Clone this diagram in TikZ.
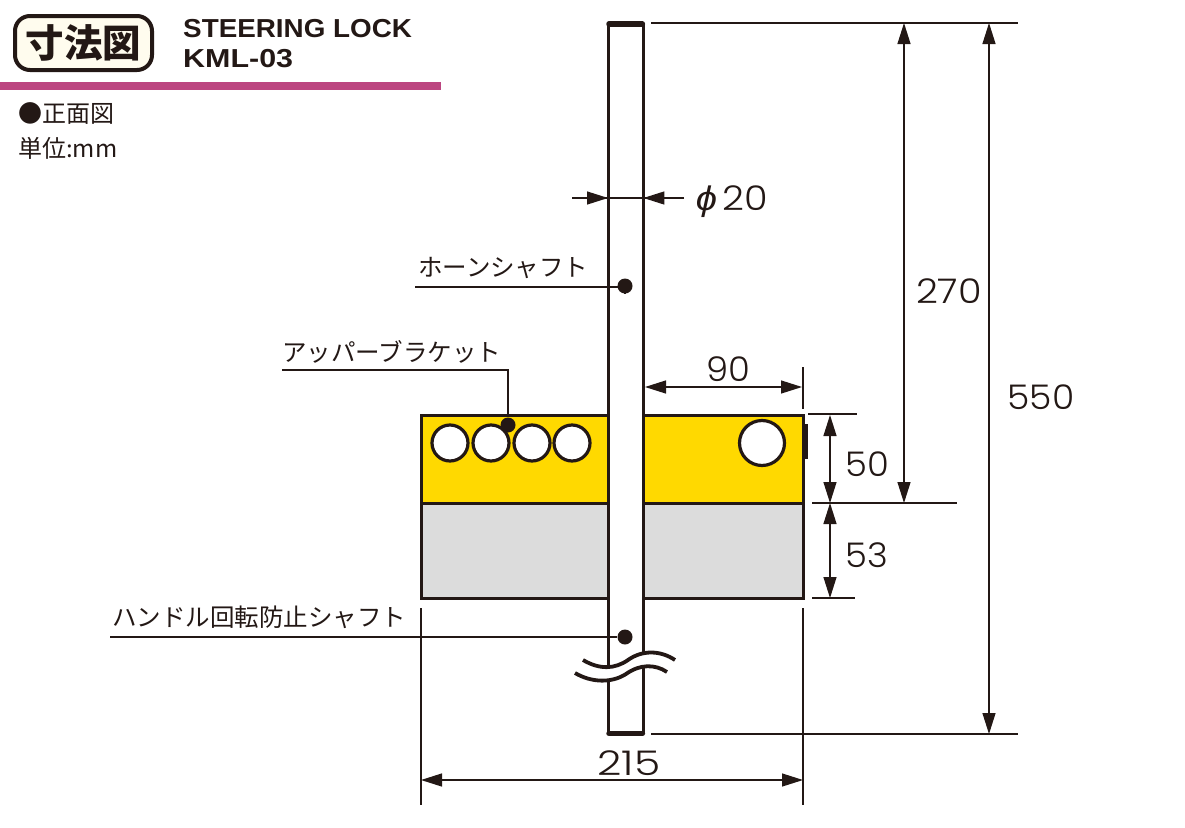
\documentclass[tikz,border=0pt]{standalone}
\usepackage{fontspec}
\setmainfont{Liberation Sans}
\newfontfamily\numfont{Poppins Light}
\newfontfamily\phifont{Liberation Sans}
\newfontfamily\jpfont{Noto Sans CJK JP}
\newfontfamily\jpbold{Noto Sans CJK JP Black}
\usetikzlibrary{positioning,arrows.meta}
\definecolor{inkbrown}{HTML}{231815}
\definecolor{lockyellow}{HTML}{FFD900}
\definecolor{lockgray}{HTML}{DCDCDC}
\definecolor{barpink}{HTML}{BC4580}
\definecolor{badgecream}{HTML}{FFFCEE}

\begin{document}
\begin{tikzpicture}[x=1pt,y=-1pt,
    inkbrown,
    body/.style={rectangle, draw=inkbrown, line width=3pt, inner sep=0pt, outer sep=0pt, anchor=north west},
    upper/.style={body, fill=lockyellow},
    lower/.style={body, fill=lockgray},
    hole/.style={circle, draw=inkbrown, fill=white, line width=3.2pt, inner sep=0pt, minimum size=#1},
    dot/.style={circle, fill=inkbrown, inner sep=0pt, minimum size=15pt},
    thin line/.style={line width=1.3pt},
    dim/.style={thin line, {Triangle[length=21pt,width=13pt]}-{Triangle[length=21pt,width=13pt]}},
    dimright/.style={thin line, -{Triangle[length=21pt,width=13pt]}},
    number/.style={font=\numfont\fontsize{34}{34}\selectfont, text=inkbrown, inner sep=0pt, xscale=1.04},
    label/.style={font=\jpfont\fontsize{24.5}{24.5}\selectfont, text=inkbrown, inner sep=0pt, anchor=west},
    headlabel/.style={label, font=\jpfont\fontsize{24}{24}\selectfont}]

\useasboundingbox (0,0) rectangle (1185,827);

% header
\node [rectangle, rounded corners=15pt, draw=inkbrown, fill=badgecream, line width=4pt,
    minimum width=137pt, minimum height=54pt, inner sep=0pt, anchor=north west,
    font=\jpbold\fontsize{38.5}{38.5}\selectfont, text=inkbrown] (badge) at (13,14) {寸法図};
\node [anchor=west, inner sep=0pt, xscale=1.07, font=\bfseries\fontsize{26}{26}\selectfont, text=inkbrown] (title) at (183,29) {STEERING LOCK};
\node [anchor=west, inner sep=0pt, xscale=1.17, font=\bfseries\fontsize{26}{26}\selectfont, text=inkbrown] (model) at (183,59) {KML-03};
\fill [barpink] (0,82) rectangle (441,90);
\node [headlabel] (view) at (18,113) {●正面図};
\node [headlabel] (unit) at (18,148) {単位:mm};

% blocks
\node [upper, minimum width=187pt, minimum height=88pt] (upperL) at (421,415) {};
\node [lower, minimum width=187pt, minimum height=95pt] (lowerL) at (421,503) {};
\node [upper, minimum width=160pt, minimum height=88pt] (upperR) at (643,415) {};
\node [lower, minimum width=160pt, minimum height=95pt] (lowerR) at (643,503) {};
\fill [inkbrown] (804,424) rectangle (808,459);

\foreach \name/\x in {holeA/450,holeB/491,holeC/532,holeD/572}
    \node [hole=36pt] (\name) at (\x,443) {};
\node [hole=45pt] (holeE) at (762,443) {};

% shaft
\node [rectangle, fill=white, inner sep=0pt, minimum width=35pt, minimum height=709pt, anchor=north west] (shaft) at (608,24) {};
\draw [line width=3pt] (shaft.north west) -- (shaft.south west);
\draw [line width=3pt] (shaft.north east) -- (shaft.south east);
\draw [line width=5.5pt, line cap=round, shorten <=1pt, shorten >=1pt] (shaft.north west) -- (shaft.north east);
\draw [line width=5.5pt, line cap=round, shorten <=1pt, shorten >=1pt] (shaft.south west) -- (shaft.south east);

% break in the shaft
\fill [white] (583,660) .. controls (600,670) and (615,669) .. (628,660) .. controls (642,650) and (660,650) .. (675,660)
    -- (667,672) .. controls (655,664) and (640,664) .. (626,674) .. controls (612,683) and (592,683) .. (575,673) -- cycle;
\draw [line width=3.8pt] (583,660) .. controls (600,670) and (615,669) .. (628,660) .. controls (642,650) and (660,650) .. (675,660);
\draw [line width=3.8pt] (575,673) .. controls (592,683) and (612,683) .. (626,674) .. controls (640,664) and (655,664) .. (667,672);

% leaders
\node [dot] (dotHorn) at (625,286) {};
\node [dot] (dotBracket) at (508,425) {};
\node [dot] (dotBar) at (625,637) {};
\coordinate (hornEnd) at (415,287);
\coordinate (bracketEnd) at (282,370);
\coordinate (barEnd) at (110,637);
\draw [thin line] (hornEnd) -- (dotHorn.center |- hornEnd) -- (dotHorn);
\draw [thin line] (bracketEnd) -| (dotBracket);
\draw [thin line] (barEnd) -- (dotBar);
\node [label] (hornLabel) at (418,268) {ホーンシャフト};
\node [label] (bracketLabel) at (282,352) {アッパーブラケット};
\node [label] (barLabel) at (112,617) {ハンドル回転防止シャフト};

% extension lines
\coordinate (topA) at (651,23);
\coordinate (topB) at (1018,23);
\coordinate (botA) at (651,734);
\coordinate (botB) at (1018,734);
\coordinate (a50) at (808,414);
\coordinate (b50) at (857,414);
\coordinate (a53) at (812,503);
\coordinate (b53) at (957,503);
\coordinate (c53) at (812,598);
\coordinate (d53) at (855,598);
\coordinate (leftA) at (421,608);
\coordinate (leftB) at (421,805);
\coordinate (rightA) at (803,608);
\coordinate (rightB) at (803,805);
\coordinate (ninetyA) at (803,367);
\coordinate (ninetyB) at (803,409);
\foreach \a/\b in {topA/topB,botA/botB,a50/b50,a53/b53,c53/d53,leftA/leftB,rightA/rightB,ninetyA/ninetyB}
    \draw [thin line] (\a) -- (\b);

% dimensions
\coordinate (d270a) at (904,23);
\coordinate (d270b) at (904,503);
\coordinate (d550a) at (989,23);
\coordinate (d550b) at (989,734);
\coordinate (d50a) at (830,415);
\coordinate (d50b) at (830,503);
\coordinate (d53a) at (830,503);
\coordinate (d53b) at (830,598);
\coordinate (d90a) at (645,387);
\coordinate (d90b) at (802,387);
\coordinate (d215a) at (421,780);
\coordinate (d215b) at (803,780);
\coordinate (phiL) at (572,198);
\coordinate (phiR) at (684,198);
\draw [dim] (d270a) -- (d270b);
\draw [dim] (d550a) -- (d550b);
\draw [dim] (d50a) -- (d50b);
\draw [dim] (d53a) -- (d53b);
\draw [dim] (d90a) -- (d90b);
\draw [dim] (d215a) -- (d215b);
\draw [thin line] (phiL) -- (phiR);
\draw [dimright] (phiL) -- (shaft.west |- phiL);
\draw [dimright] (phiR) -- (shaft.east |- phiR);

\node [number, xscale=1.08] (n270) at (949,291) {270};
\node [number, xscale=1.02] (n550) at (1041,397) {550};
\node [number] (n90) at (728,369) {90};
\node [number] (n50) at (867,464) {50};
\node [number] (n53) at (867,555) {53};
\node [number, xscale=1.2] (n215) at (629,763) {215};
\node [number, xscale=1.08] (nphi) at (732,202) {{\phifont\itshape ϕ}\kern5pt 20};

\end{tikzpicture}
\end{document}
